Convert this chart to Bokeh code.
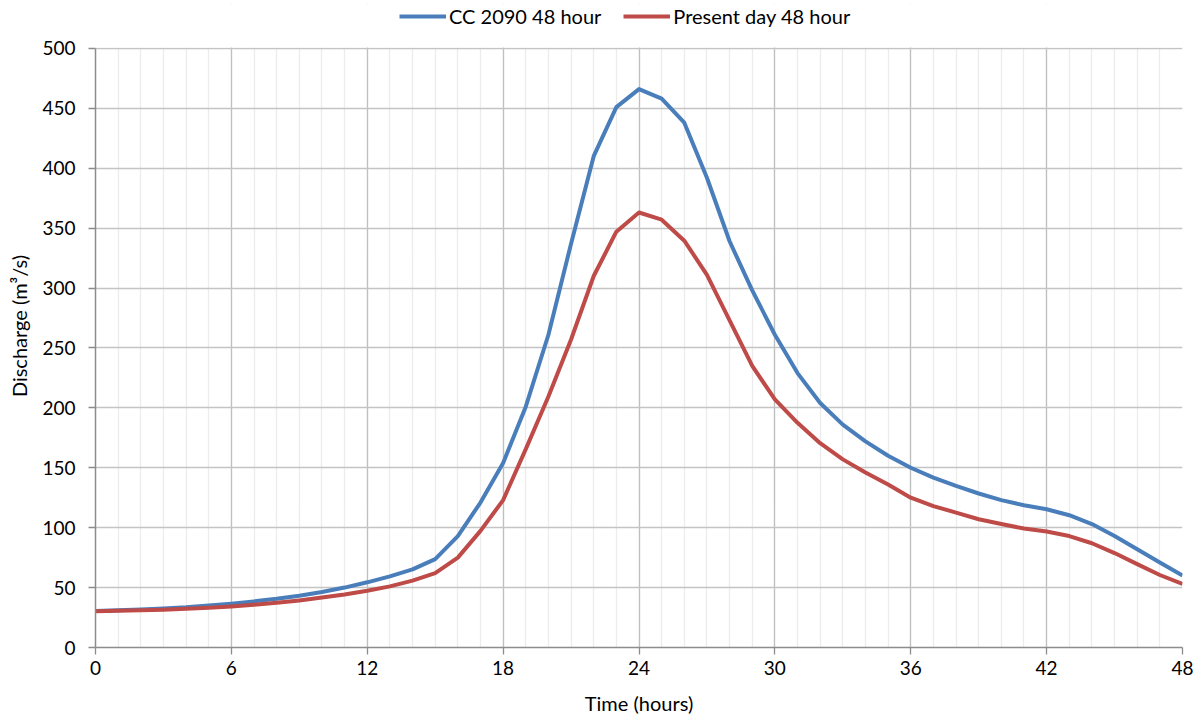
from bokeh.plotting import figure
from bokeh.models import FixedTicker, Legend, LegendItem, ColumnDataSource, Range1d, BoxAnnotation
from bokeh.embed import file_html
from bokeh.resources import INLINE

hours = list(range(0, 49))
cc2090 = [30.5, 31.0, 31.7, 32.5, 33.5, 35.0, 36.6, 38.5, 40.6, 43.2, 46.3, 50.0,
          54.4, 59.4, 65.2, 73.8, 93.0, 121.0, 154.0, 201.0, 261.0, 337.0, 410.0, 451.0,
          466.0, 458.0, 438.0, 392.0, 339.0, 298.0, 261.0, 229.0, 204.0, 186.0, 172.0, 160.0,
          150.0, 141.7, 134.8, 128.5, 123.0, 118.7, 115.4, 110.4, 103.0, 93.0, 82.0, 71.0, 60.0]
present = [30.3, 30.6, 31.0, 31.6, 32.3, 33.2, 34.3, 35.7, 37.3, 39.3, 41.7, 44.3,
           47.4, 51.0, 55.8, 62.0, 75.0, 97.3, 123.0, 165.5, 209.5, 257.0, 310.0, 347.0,
           363.0, 357.0, 339.5, 311.0, 273.0, 235.0, 207.0, 187.5, 170.5, 157.0, 146.0, 136.0,
           125.0, 118.0, 112.6, 107.0, 103.0, 99.3, 96.8, 93.0, 87.0, 78.8, 69.6, 60.5, 53.0]
series_names = ["CC 2090 48 hour", "Present day 48 hour"]
x_major = [0, 6, 12, 18, 24, 30, 36, 42, 48]
y_major = [0, 50, 100, 150, 200, 250, 300, 350, 400, 450, 500]
y_max = 500

FONT = "Lato"

# frame extends above the 500 line to host the legend; that strip is blanked out
frame_top_extra = 536.6
p = figure(width=1200, height=717, output_backend="svg", toolbar_location=None,
           x_range=Range1d(0, 48), y_range=Range1d(0, frame_top_extra),
           min_border_left=95, min_border_right=18, min_border_top=4, min_border_bottom=68)
p.outline_line_color = None
p.background_fill_color = "white"
p.border_fill_color = "white"

src = ColumnDataSource(dict(t=hours, cc=cc2090, pd=present))
r1 = p.line("t", "cc", source=src, line_color="#4a7ebb", line_width=4, line_join="round")
r2 = p.line("t", "pd", source=src, line_color="#be4b48", line_width=4, line_join="round")

p.xaxis.ticker = FixedTicker(ticks=x_major, minor_ticks=hours)
p.yaxis.ticker = FixedTicker(ticks=y_major)
p.yaxis.bounds = (0, y_max)

p.xgrid.grid_line_color = "#bfbfbf"
p.xgrid.grid_line_width = 1.3
p.xgrid.minor_grid_line_color = "#ececec"
p.xgrid.minor_grid_line_width = 1.3
p.ygrid.grid_line_color = "#c4c4c4"
p.ygrid.grid_line_width = 1.3

mask = BoxAnnotation(bottom=y_max + 0.7, fill_color="white", fill_alpha=1.0,
                     line_color=None, level="underlay")
p.add_layout(mask)

for ax in (p.xaxis[0], p.yaxis[0]):
    ax.axis_line_color = "#8c8c8c"
    ax.axis_line_width = 1.5
    ax.major_tick_line_color = "#8c8c8c"
    ax.major_tick_line_width = 1.3
    ax.major_tick_out = 7
    ax.major_tick_in = 0
    ax.minor_tick_line_color = None
    ax.major_label_text_font = FONT
    ax.major_label_text_font_size = "19px"
    ax.major_label_text_color = "#000000"
    ax.axis_label_text_font = FONT
    ax.axis_label_text_font_size = "20px"
    ax.axis_label_text_font_style = "normal"
    ax.axis_label_text_color = "#000000"

p.xaxis.axis_label = "Time (hours)"
p.yaxis.axis_label = "Discharge (m\u00b3/s)"
p.xaxis.major_label_standoff = 6
p.xaxis.axis_label_standoff = 13
p.yaxis.major_label_standoff = 13
p.yaxis.axis_label_standoff = 8

legend = Legend(items=[LegendItem(label=series_names[0], renderers=[r1]),
                       LegendItem(label=series_names[1], renderers=[r2])],
                orientation="horizontal", location=(304, 619))
legend.label_text_font = FONT
legend.label_text_font_size = "20px"
legend.label_text_color = "#000000"
legend.glyph_width = 47
legend.glyph_height = 20
legend.label_standoff = 3
legend.spacing = 22
legend.padding = 2
legend.margin = 0
legend.border_line_color = None
legend.background_fill_alpha = 0
p.add_layout(legend, "center")

open("out.html", "w").write(file_html(p, INLINE))
